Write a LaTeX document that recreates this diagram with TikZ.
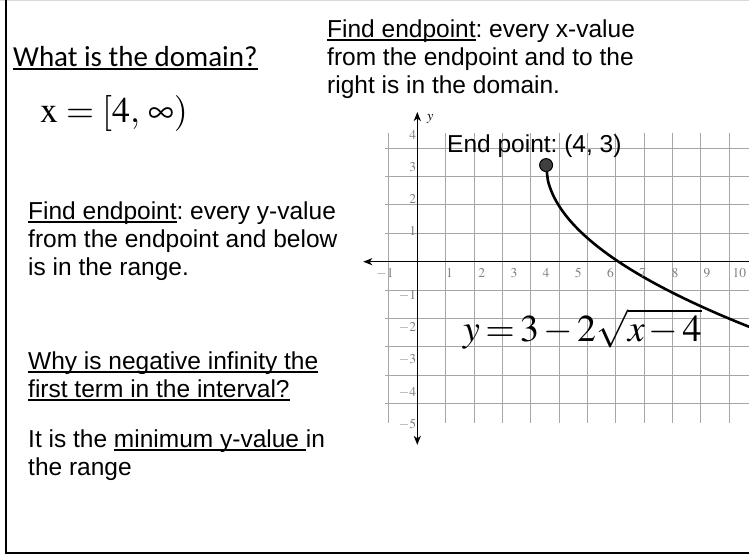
\documentclass[tikz,border=0pt]{standalone}
\usepackage{mathptmx}
\usepackage[no-math]{fontspec}
\newfontfamily\arialf{Liberation Sans}
\newfontfamily\calibf{Carlito}
\usetikzlibrary{arrows.meta,positioning,calc}
\frenchspacing
\definecolor{cGrid}{HTML}{A6A6A6}
\definecolor{cTick}{HTML}{808080}
\definecolor{cDot}{HTML}{404040}
\definecolor{cFrame}{HTML}{D9D9D9}
\newcommand{\uln}[1]{\leavevmode\setbox0\hbox{#1}\rlap{\rule[-0.11em]{\wd0}{0.065em}}\box0}
\newcommand{\tightmath}{\thickmuskip=2.5mu\relax\medmuskip=2mu\relax}
\tikzset{
  txt/.style={font=\arialf\fontsize{24.5bp}{28bp}\selectfont, inner sep=0pt,
              align=left, anchor=base west},
  head/.style={font=\calibf\fontsize{29bp}{30bp}\selectfont, inner sep=0pt, anchor=base west},
  domtxt/.style={font=\fontsize{36bp}{38bp}\selectfont, inner sep=0pt, anchor=base west},
  eqtxt/.style={font=\fontsize{38bp}{40bp}\selectfont, inner sep=0pt, anchor=base west},
  tick/.style={font=\fontsize{13.5bp}{14bp}\selectfont, text=cTick, inner sep=0pt},
  gridln/.style={cGrid, line width=1bp},
  axis/.style={line width=1.6bp, black},
  axarr/.style={-{Stealth[length=9bp,width=7bp,inset=2.5bp]}},
  curve/.style={line width=2.6bp, black},
  enddot/.style={circle, draw=black, line width=1bp, fill=cDot, minimum size=13bp, inner sep=0pt}
}
\begin{document}
\begin{tikzpicture}[x=1bp, y=1bp]
\useasboundingbox (0,0) rectangle (749,556);
% slide frame
\draw[cFrame, line width=1.5bp] (0,555.3) -- (749,555.3);
\draw[line width=2bp] (5.5,556) |- (749,2.5);
% left column (base = last line)
\node[head] (quest) at (13,489.3) {\uln{What is the domain?}};
\node[domtxt] (dom) at (40,433) {$\mathrm{x}=[4,\,\infty)$};
\node[txt] (rng) at (28,280) {\uln{Find endpoint}: every y-value\\from the endpoint and below\\is in the range.};
\node[txt] (why) at (28,158) {\uln{Why is negative infinity the}\\\uln{first term in the interval?}};
\node[txt] (ans) at (28,80) {It is the \uln{minimum y-value }in\\the range};
% top right
\node[txt] (dmn) at (327,462) {\uln{Find endpoint}: every x-value\\from the endpoint and to the\\right is in the domain.};
% graph
\begin{scope}[shift={(417.3,294.3)}, x=32.2bp, y=32.2bp]
  \begin{scope}
    \clip (-2,-6) rectangle (10.3,5);
    \draw[gridln] (-1,-5) grid (11,4);
    \draw[axis, axarr] (10.6,0) -- (-1.68,0);
    \draw[curve] plot[domain=4:10.5, samples=120, smooth] (\x, {3-2*sqrt(\x-4)});
  \end{scope}
  \draw[axis, axarr] (0,-5) -- (0,-5.69);
  \draw[axis, axarr] (0,-5) -- (0,4.65);
  \foreach \i in {-1,1,2,...,10}
    \node[tick] (xt\i) at (\i,-0.36) {$\i$};
  \foreach \j in {4,3,2,1,-1,-2,-3,-4,-5}
    \node[tick, anchor=east] (yt\j) at (-0.03,\j-0.05) {$\j$};
  \node[tick, font=\fontsize{14bp}{14bp}\selectfont, text=black] (ylab) at (0.4,4.45) {$y$};
  \node[enddot] (ep) at (4,3) {};
\end{scope}
\node[txt] (eplbl) at (447,403) {End point: (4, 3)};
\node[eqtxt] (eq) at (463,214) {$\tightmath y=3-2\sqrt{x-4}$};
\end{tikzpicture}
\end{document}
